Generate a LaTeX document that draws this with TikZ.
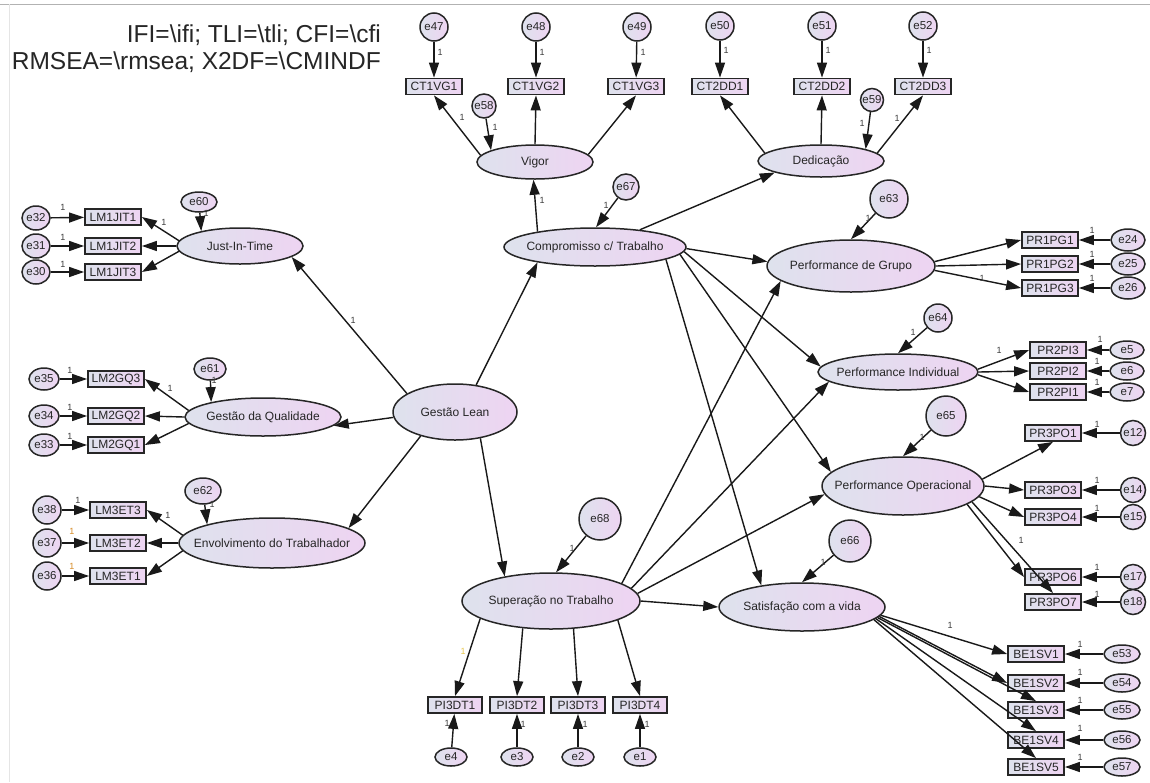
\documentclass[tikz,border=0pt]{standalone}
\usepackage{fontspec}
\setmainfont{Liberation Sans}
\usetikzlibrary{shapes.geometric,arrows.meta}
\definecolor{lc}{RGB}{222,226,237}
\definecolor{rc}{RGB}{238,212,242}
\definecolor{onecol}{RGB}{60,60,60}
\definecolor{orangeone}{RGB}{214,140,40}
\definecolor{yellowone}{RGB}{232,200,80}
\newcommand\zw[1]{\makebox[0pt]{#1}}
\tikzset{
 base/.style={draw=black!85, left color=lc, right color=rc, inner sep=0pt, text=black!85},
 lat/.style={base, ellipse, line width=1.5pt, font=\fontsize{12}{12}\selectfont},
 obs/.style={base, rectangle, line width=1.8pt, minimum width=56pt, minimum height=16pt, font=\fontsize{12}{12}\selectfont},
 err/.style={base, ellipse, line width=1.5pt, font=\fontsize{11.5}{11.5}\selectfont},
 arr/.style={-{Triangle[length=15pt,width=10pt]}, line width=1.4pt, draw=black!90},
 one/.style={font=\fontsize{9}{9}\selectfont, text=onecol, inner sep=0pt},
 ttl/.style={anchor=base east, font=\fontsize{24.5}{24.5}\selectfont, text=black!85, inner sep=0pt},
}
\begin{document}
\begin{tikzpicture}[x=1pt,y=-1pt]
\useasboundingbox (0,0) rectangle (1150,782);
\fill[white] (0,0) rectangle (1150,782);
\draw[gray!60, line width=1pt] (0,4) -- (1150,4);
\draw[gray!20, line width=0.8pt] (9,4) -- (9,782);

% title
\node[ttl] (t1) at (381,42) {IFI=\textbackslash ifi; TLI=\textbackslash tli; CFI=\textbackslash cfi};
\node[ttl] (t2) at (381,69) {RMSEA=\textbackslash rmsea; X2DF=\textbackslash CMINDF};

% latent variables
\node[lat,minimum width=116pt,minimum height=34pt] (vigor) at (535,162) {\zw{Vigor}};
\node[lat,minimum width=126pt,minimum height=32pt] (ded) at (821,161) {\zw{Dedicação}};
\node[lat,minimum width=182pt,minimum height=38pt] (comp) at (595,247) {\zw{Compromisso c/ Trabalho}};
\node[lat,minimum width=126pt,minimum height=36pt] (jit) at (240,246) {\zw{Just-In-Time}};
\node[lat,minimum width=156pt,minimum height=38pt] (gq) at (263,417) {\zw{Gestão da Qualidade}};
\node[lat,minimum width=186pt,minimum height=50pt] (et) at (272,543) {\zw{Envolvimento do Trabalhador}};
\node[lat,minimum width=124pt,minimum height=56pt] (gl) at (455,412) {\zw{Gestão Lean}};
\node[lat,minimum width=168pt,minimum height=52pt] (pg) at (851,266) {\zw{Performance de Grupo}};
\node[lat,minimum width=160pt,minimum height=36pt] (pi) at (898,372) {\zw{Performance Individual}};
\node[lat,minimum width=162pt,minimum height=58pt] (po) at (903,486) {\zw{Performance Operacional}};
\node[lat,minimum width=166pt,minimum height=48pt] (sat) at (802,607) {\zw{Satisfação com a vida}};
\node[lat,minimum width=178pt,minimum height=56pt] (sup) at (551,601) {\zw{Superação no Trabalho}};

% observed variables
\node[obs] (ct1) at (434,86.5) {CT1VG1};
\node[obs] (ct2) at (536,86.5) {CT1VG2};
\node[obs] (ct3) at (636,86.5) {CT1VG3};
\node[obs] (ct4) at (720,86.5) {CT2DD1};
\node[obs] (ct5) at (822,86.5) {CT2DD2};
\node[obs] (ct6) at (923,86.5) {CT2DD3};
\node[obs] (lmj1) at (113,217) {LM1JIT1};
\node[obs] (lmj2) at (113,246) {LM1JIT2};
\node[obs] (lmj3) at (113,272) {LM1JIT3};
\node[obs] (lmg3) at (116,379) {LM2GQ3};
\node[obs] (lmg2) at (116,416) {LM2GQ2};
\node[obs] (lmg1) at (116,445) {LM2GQ1};
\node[obs] (lme3) at (118,510) {LM3ET3};
\node[obs] (lme2) at (118,543) {LM3ET2};
\node[obs] (lme1) at (118,576) {LM3ET1};
\node[obs] (pg1) at (1050,240) {PR1PG1};
\node[obs] (pg2) at (1050,264) {PR1PG2};
\node[obs] (pg3) at (1050,288) {PR1PG3};
\node[obs] (pi3) at (1058,350) {PR2PI3};
\node[obs] (pi2) at (1058,371) {PR2PI2};
\node[obs] (pi1) at (1058,392) {PR2PI1};
\node[obs] (po1) at (1053,433) {PR3PO1};
\node[obs] (po3) at (1053,490) {PR3PO3};
\node[obs] (po4) at (1053,517) {PR3PO4};
\node[obs] (po6) at (1053,577) {PR3PO6};
\node[obs] (po7) at (1053,602) {PR3PO7};
\node[obs] (be1) at (1036,654) {BE1SV1};
\node[obs] (be2) at (1036,683) {BE1SV2};
\node[obs] (be3) at (1036,710) {BE1SV3};
\node[obs] (be4) at (1036,740) {BE1SV4};
\node[obs] (be5) at (1036,767) {BE1SV5};
\node[obs,minimum width=54pt] (dt1) at (455,705) {PI3DT1};
\node[obs,minimum width=54pt] (dt2) at (517,705) {PI3DT2};
\node[obs,minimum width=54pt] (dt3) at (578,705) {PI3DT3};
\node[obs,minimum width=54pt] (dt4) at (640,705) {PI3DT4};

% error terms
\node[err,minimum size=28pt] (e47) at (434,27) {\zw{e47}};
\node[err,minimum size=28pt] (e48) at (536,27) {\zw{e48}};
\node[err,minimum size=28pt] (e49) at (637,27) {\zw{e49}};
\node[err,minimum size=28pt] (e50) at (720,26) {\zw{e50}};
\node[err,minimum size=28pt] (e51) at (822,26) {\zw{e51}};
\node[err,minimum size=28pt] (e52) at (923,26) {\zw{e52}};
\node[err,minimum size=24pt] (e58) at (484,106) {\zw{e58}};
\node[err,minimum size=23pt] (e59) at (872,100) {\zw{e59}};
\node[err,minimum size=26pt] (e67) at (626,187) {\zw{e67}};
\node[err,minimum width=36pt,minimum height=20pt] (e60) at (199,202) {\zw{e60}};
\node[err,minimum width=32pt,minimum height=22pt] (e61) at (210,369) {\zw{e61}};
\node[err,minimum width=36pt,minimum height=26pt] (e62) at (203,491) {\zw{e62}};
\node[err,minimum width=28pt,minimum height=24pt] (e32) at (36,218) {\zw{e32}};
\node[err,minimum width=28pt,minimum height=24pt] (e31) at (36,246) {\zw{e31}};
\node[err,minimum width=28pt,minimum height=24pt] (e30) at (36,272) {\zw{e30}};
\node[err,minimum width=30pt,minimum height=22pt] (e35) at (44,379) {\zw{e35}};
\node[err,minimum width=30pt,minimum height=22pt] (e34) at (44,416) {\zw{e34}};
\node[err,minimum width=30pt,minimum height=22pt] (e33) at (44,445) {\zw{e33}};
\node[err,minimum size=28pt] (e38) at (47,510) {\zw{e38}};
\node[err,minimum size=28pt] (e37) at (47,543) {\zw{e37}};
\node[err,minimum size=28pt] (e36) at (47,576) {\zw{e36}};
\node[err,minimum size=38pt] (e63) at (889,199) {\zw{e63}};
\node[err,minimum size=28pt] (e64) at (938,318) {\zw{e64}};
\node[err,minimum size=40pt] (e65) at (946,416) {\zw{e65}};
\node[err,minimum size=42pt] (e66) at (850,541) {\zw{e66}};
\node[err,minimum size=42pt] (e68) at (600,519) {\zw{e68}};
\node[err,minimum width=34pt,minimum height=22pt] (e24) at (1128,240) {\zw{e24}};
\node[err,minimum width=34pt,minimum height=22pt] (e25) at (1128,264) {\zw{e25}};
\node[err,minimum width=34pt,minimum height=22pt] (e26) at (1128,288) {\zw{e26}};
\node[err,minimum width=34pt,minimum height=18pt] (e5) at (1127,350) {\zw{e5}};
\node[err,minimum width=34pt,minimum height=18pt] (e6) at (1127,371) {\zw{e6}};
\node[err,minimum width=34pt,minimum height=18pt] (e7) at (1127,392) {\zw{e7}};
\node[err,minimum size=25pt] (e12) at (1133,433) {\zw{e12}};
\node[err,minimum size=25pt] (e14) at (1133,490) {\zw{e14}};
\node[err,minimum size=25pt] (e15) at (1133,517) {\zw{e15}};
\node[err,minimum size=25pt] (e17) at (1133,577) {\zw{e17}};
\node[err,minimum size=25pt] (e18) at (1133,602) {\zw{e18}};
\node[err,minimum width=36pt,minimum height=18pt] (e53) at (1122,654) {\zw{e53}};
\node[err,minimum width=36pt,minimum height=18pt] (e54) at (1122,683) {\zw{e54}};
\node[err,minimum width=36pt,minimum height=18pt] (e55) at (1122,710) {\zw{e55}};
\node[err,minimum width=36pt,minimum height=18pt] (e56) at (1122,740) {\zw{e56}};
\node[err,minimum width=36pt,minimum height=18pt] (e57) at (1122,767) {\zw{e57}};
\node[err,minimum width=32pt,minimum height=18pt] (e4) at (451,757) {\zw{e4}};
\node[err,minimum width=32pt,minimum height=18pt] (e3) at (517,757) {\zw{e3}};
\node[err,minimum width=32pt,minimum height=18pt] (e2) at (578,757) {\zw{e2}};
\node[err,minimum width=32pt,minimum height=18pt] (e1) at (640,757) {\zw{e1}};

% error -> indicator arrows
\foreach \a/\b in {e47/ct1,e48/ct2,e49/ct3,e50/ct4,e51/ct5,e52/ct6,
  e32/lmj1,e31/lmj2,e30/lmj3,e35/lmg3,e34/lmg2,e33/lmg1,e38/lme3,e37/lme2,e36/lme1,
  e24/pg1,e25/pg2,e26/pg3,e5/pi3,e6/pi2,e7/pi1,e12/po1,e14/po3,e15/po4,e17/po6,e18/po7,
  e53/be1,e54/be2,e55/be3,e56/be4,e57/be5,e4/dt1,e3/dt2,e2/dt3,e1/dt4}
  \draw[arr] (\a) -- (\b);

% error -> latent arrows
\draw[arr] (e58) -- (vigor.165);
\draw[arr] (e59) -- (ded.15);
\draw[arr] (e60) -- (jit.159);
\draw[arr] (e61) -- (gq.164);
\draw[arr] (e62) -- (et.164);
\draw[arr] (e67) -- (comp.87);
\draw[arr] (e63) -- (pg.90);
\draw[arr] (e64) -- (pi.90);
\draw[arr] (e65) -- (po.90);
\draw[arr] (e66) -- (sat.90);
\draw[arr] (e68) -- (sup.80);

% latent -> indicator arrows
\draw[arr] (jit.175) -- (lmj1.east);
\draw[arr] (jit.180) -- (lmj2.east);
\draw[arr] (jit.185) -- (lmj3.east);
\draw[arr] (gq.175) -- (lmg3.east);
\draw[arr] (gq.180) -- (lmg2.east);
\draw[arr] (gq.185) -- (lmg1.east);
\draw[arr] (et.175) -- (lme3.east);
\draw[arr] (et.180) -- (lme2.east);
\draw[arr] (et.185) -- (lme1.east);
\draw[arr] (vigor.173) -- (ct1.south);
\draw[arr] (vigor.90) -- (ct2.south);
\draw[arr] (vigor.8) -- (ct3.south);
\draw[arr] (ded.172) -- (ct4.south);
\draw[arr] (ded.90) -- (ct5.south);
\draw[arr] (ded.8) -- (ct6.south);
\draw[arr] (pg.3) -- (pg1.west);
\draw[arr] (pg.0) -- (pg2.west);
\draw[arr] (pg.-3) -- (pg3.west);
\draw[arr] (pi.2) -- (pi3.west);
\draw[arr] (pi.0) -- (pi2.west);
\draw[arr] (pi.-2) -- (pi1.west);
\draw[arr] (po.5) -- (po1.south);
\draw[arr] (po.0) -- (po3.west);
\draw[arr] (po.-8) -- (po4.west);
\draw[arr] (po.-16) -- (po6.west);
\draw[arr] (po.-13) -- (po7.north);
\draw[arr] (sat.-6) -- (be1.west);
\draw[arr] (sat.-7) -- (be2.west);
\draw[arr] (sat.-8) -- (be3.north);
\draw[arr] (sat.-9) -- (be4.north);
\draw[arr] (sat.-10) -- (be5.north);
\draw[arr] (sup.194) -- (dt1.north);
\draw[arr] (sup.224) -- (dt2.north);
\draw[arr] (sup.-51) -- (dt3.north);
\draw[arr] (sup.-16) -- (dt4.north);

% structural arrows
\draw[arr] (gl.159) -- (jit.-12);
\draw[arr] (gl.185) -- (gq.-7);
\draw[arr] (gl.215) -- (et.11);
\draw[arr] (gl.52) -- (comp.195);
\draw[arr] (gl.-46) -- (sup.152);
\draw[arr] (comp.165) -- (vigor.265);
\draw[arr] (comp.21) -- (ded.194);
\draw[arr] (comp.-1) -- (pg.177);
\draw[arr] (comp.-3) -- (pi.176);
\draw[arr] (comp.-5) -- (po.169);
\draw[arr] (comp.-10) -- (sat.152);
\draw[arr] (sup.14) -- (pg.192);
\draw[arr] (sup.9) -- (pi.188);
\draw[arr] (sup.5) -- (po.186);
\draw[arr] (sup.0) -- (sat.180);

% "1" labels: error -> indicator
\node[one] (n47) at (440,52) {1};
\node[one] (n48) at (542,52) {1};
\node[one] (n49) at (643,52) {1};
\node[one] (n50) at (726,50) {1};
\node[one] (n51) at (828,50) {1};
\node[one] (n52) at (929,50) {1};
\node[one] (n32) at (63,207) {1};
\node[one] (n31) at (63,237) {1};
\node[one] (n30) at (63,264) {1};
\node[one] (n35) at (70,370) {1};
\node[one] (n34) at (70,407) {1};
\node[one] (n33) at (70,436) {1};
\node[one] (n38) at (78,500) {1};
\node[one,text=orangeone] (n37) at (72,531) {1};
\node[one,text=orangeone] (n36) at (72,566) {1};
\node[one] (n24) at (1092,230) {1};
\node[one] (n25) at (1092,254) {1};
\node[one] (n26) at (1092,278) {1};
\node[one] (n5) at (1100,339) {1};
\node[one] (n6) at (1097,361) {1};
\node[one] (n7) at (1097,382) {1};
\node[one] (n12) at (1097,424) {1};
\node[one] (n14) at (1097,480) {1};
\node[one] (n15) at (1097,508) {1};
\node[one] (n17) at (1097,567) {1};
\node[one] (n18) at (1097,594) {1};
\node[one] (n53) at (1080,644) {1};
\node[one] (n54) at (1080,672) {1};
\node[one] (n55) at (1080,700) {1};
\node[one] (n56) at (1080,728) {1};
\node[one] (n57) at (1080,757) {1};
\node[one] (n4) at (447,723) {1};
\node[one] (n3) at (523,724) {1};
\node[one] (n2) at (585,724) {1};
\node[one] (n1) at (647,724) {1};
% "1" labels: error -> latent
\node[one] (n58) at (495,127) {1};
\node[one] (n59) at (862,123) {1};
\node[one] (n60) at (206,213) {1};
\node[one] (n61) at (214,380) {1};
\node[one] (n62) at (212,504) {1};
\node[one] (n67) at (606,205) {1};
\node[one] (n63) at (868,218) {1};
\node[one] (n64) at (913,332) {1};
\node[one] (n65) at (922,437) {1};
\node[one] (n66) at (823,562) {1};
\node[one] (n68) at (572,548) {1};
% "1" labels: loadings
\node[one] (lj) at (164,222) {1};
\node[one] (lg) at (170,388) {1};
\node[one] (le) at (168,515) {1};
\node[one] (lv) at (462,117) {1};
\node[one] (ld) at (897,118) {1};
\node[one] (lpg) at (982,278) {1};
\node[one] (lpi) at (999,350) {1};
\node[one] (lpo) at (1021,540) {1};
\node[one] (lbe) at (950,625) {1};
\node[one,text=yellowone] (ldt) at (463,651) {1};
\node[one] (lgl) at (353,320) {1};
\node[one] (lcv) at (542,200) {1};
\end{tikzpicture}
\end{document}
